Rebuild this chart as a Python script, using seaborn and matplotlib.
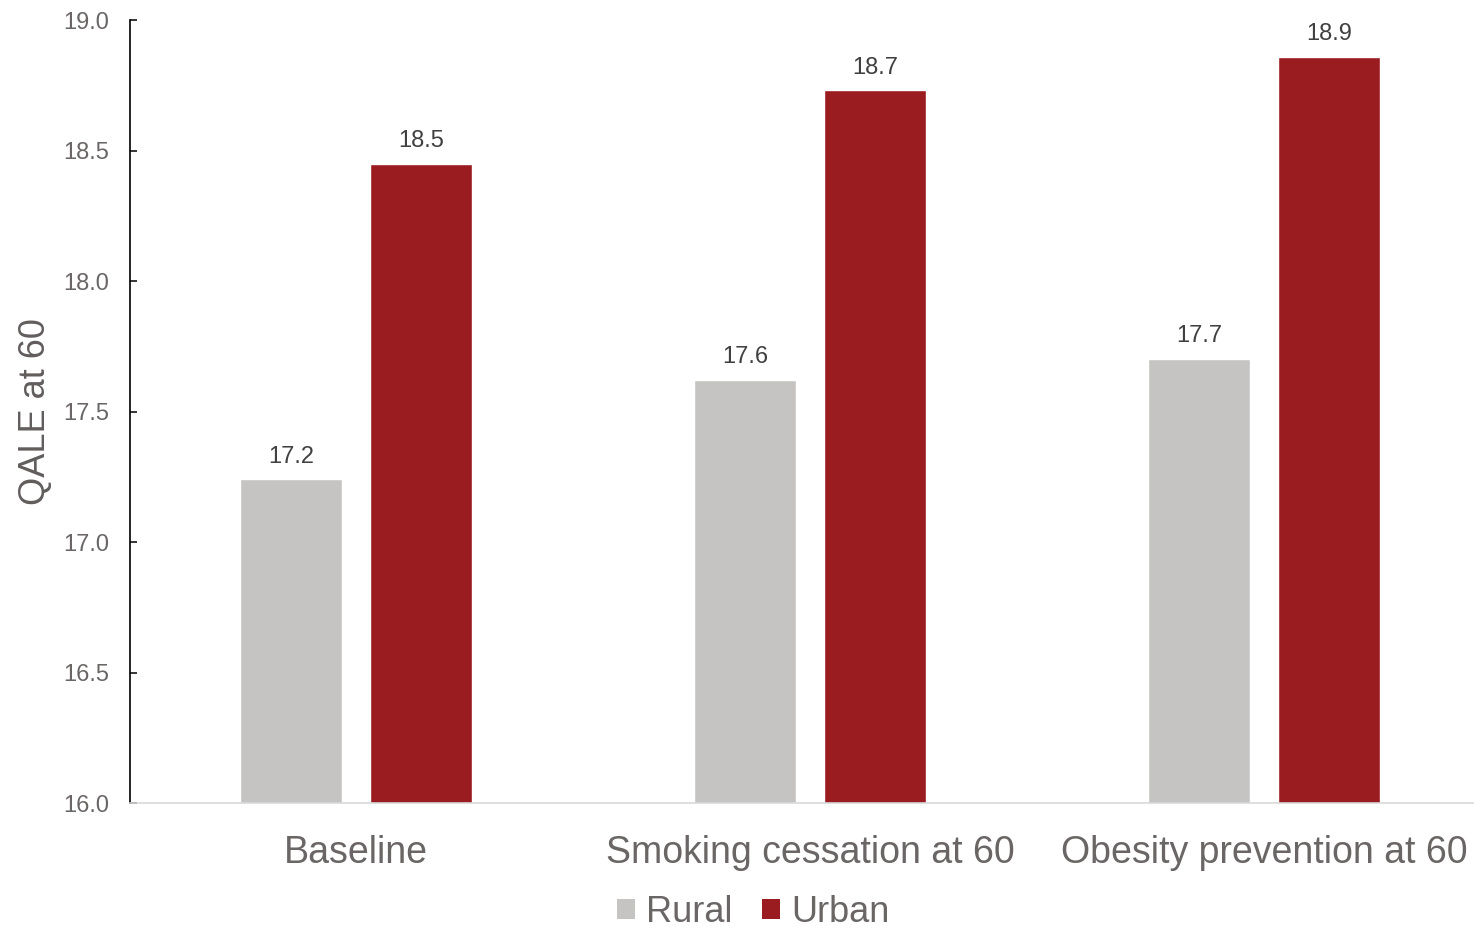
import pandas as pd
import matplotlib
matplotlib.use('Agg')
import matplotlib.pyplot as plt
import seaborn as sns
from matplotlib.patches import Patch

# values
scenarios = ['Baseline', 'Smoking cessation at 60', 'Obesity prevention at 60']
areas = ['Rural', 'Urban']
rural_qale = [17.24, 17.62, 17.70]
urban_qale = [18.45, 18.73, 18.86]
rural_labels = ['17.2', '17.6', '17.7']
urban_labels = ['18.5', '18.7', '18.9']
y_ticks = [16.0, 16.5, 17.0, 17.5, 18.0, 18.5, 19.0]

colors = {'Rural': '#C5C4C2', 'Urban': '#9A1B20'}

df = pd.DataFrame({
    'scenario': scenarios * 2,
    'area': ['Rural'] * 3 + ['Urban'] * 3,
    'qale': rural_qale + urban_qale,
})

sns.set_style('white')
plt.rcParams['font.family'] = ['Liberation Sans', 'DejaVu Sans']

fig = plt.figure(figsize=(14.74, 9.30), dpi=100)
ax = fig.add_axes([130 / 1474, 1 - 803 / 930, 1344 / 1474, 783 / 930])

sns.barplot(data=df, x='scenario', y='qale', hue='area', order=scenarios,
            hue_order=areas, palette=colors, width=0.573, gap=0.2157,
            saturation=1, legend=False, ax=ax)

ax.set_ylim(16.0, 19.0)
ax.set_xlim(-0.498, 2.462)
ax.set_yticks(y_ticks)
ax.set_yticklabels([f'{t:.1f}' for t in y_ticks])

# value labels on top of the bars
for cont, labs in zip(ax.containers, [rural_labels, urban_labels]):
    ax.bar_label(cont, labels=labs, padding=8.5, fontsize=17, color='#404040')

ax.set_xlabel('')
ax.set_ylabel('QALE at 60', fontsize=26, color='#625D5D')
ax.yaxis.set_label_coords(-0.057, 0.5)

ax.tick_params(axis='y', direction='in', length=5, width=1.1, color='black',
               labelsize=17, labelcolor='#6B6666', pad=15, left=True)
ax.tick_params(axis='x', length=0, labelsize=27, labelcolor='#6B6666', pad=23)

for s in ['top', 'right']:
    ax.spines[s].set_visible(False)
ax.spines['left'].set_color('black')
ax.spines['left'].set_linewidth(1.2)
ax.spines['bottom'].set_color('#D9D9D9')
ax.spines['bottom'].set_linewidth(1.2)

handles = [Patch(facecolor=colors[a], edgecolor='none') for a in areas]
leg = fig.legend(handles, areas, loc='center', bbox_to_anchor=(0.511, 0.019),
                 ncol=2, frameon=False, fontsize=26, handlelength=0.5,
                 handleheight=0.5, handletextpad=0.3, columnspacing=0.83,
                 borderpad=0, borderaxespad=0)
for t in leg.get_texts():
    t.set_color('#6B6666')

fig.savefig('out.png', dpi=100)
